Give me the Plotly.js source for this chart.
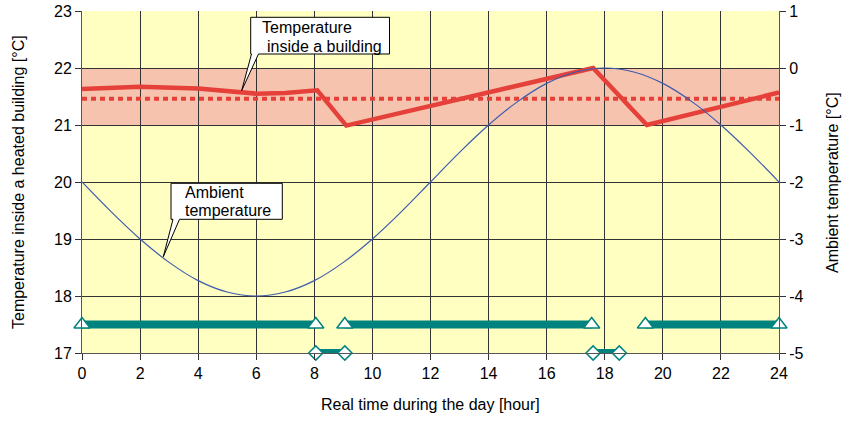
<!DOCTYPE html>
<html>
<head>
<meta charset="utf-8">
<script src="https://cdn.plot.ly/plotly-3.0.1.min.js"></script>
<style>html,body{margin:0;padding:0;background:#fff}#chart{width:846px;height:423px}</style>
</head>
<body>
<div id="chart"></div>
<script>
// Indoor temperature (left axis, °C)
const indoorHours = [0, 2, 4, 6, 7, 8.1, 9.1, 17.6, 19.45, 24];
const indoorTemp  = [21.63, 21.67, 21.64, 21.55, 21.56, 21.61, 20.99, 22.0, 21.0, 21.57];
// Mean indoor temperature (dotted line)
const meanHours = [0, 24];
const meanTemp  = [21.46, 21.46];
// Ambient temperature (right axis, °C)
const ambientHours = [0,1,2,3,4,5,6,7,8,9,10,11,12,13,14,15,16,17,18,19,20,21,22,23,24];
const ambientTemp  = [-2,-2.52,-3,-3.41,-3.73,-3.93,-4,-3.93,-3.73,-3.41,-3,-2.52,-2,-1.48,-1,-0.59,-0.27,-0.07,0,-0.07,-0.27,-0.59,-1,-1.48,-2];
// Heating on periods (upper bar) and off periods (lower bar)
const onStart  = [0, 9.05, 19.4];
const onEnd    = [8.05, 17.55, 24];
const onLevel  = 17.5;
const offStart = [8.05, 17.6];
const offEnd   = [9.05, 18.5];
const offLevel = 17;
// Comfort band
const bandLow = 21, bandHigh = 22;
const xTicks = [0,2,4,6,8,10,12,14,16,18,20,22,24];
const y2Ticks = [-5,-4,-3,-2,-1,0,1];
const y2TickText = ['-5','-4','-3','-2','-1','0','1'];

function segs(starts, ends, level) {
  const x = [], y = [];
  starts.forEach((s, i) => { x.push(s, ends[i], null); y.push(level, level, null); });
  return {x, y};
}
const onSeg = segs(onStart, onEnd, onLevel);
const offSeg = segs(offStart, offEnd, offLevel);
const onPts = {x: onStart.concat(onEnd), y: onStart.concat(onEnd).map(() => onLevel)};
const offPts = {x: offStart.concat(offEnd), y: offStart.concat(offEnd).map(() => offLevel)};

const teal = '#00837F';
const red = '#E5403A';
const font = 'Liberation Sans, Arial, sans-serif';

const traces = [
  {x: meanHours, y: meanTemp, mode: 'lines', line: {color: red, width: 4, dash: '5px,4px'}, hoverinfo: 'skip'},
  {x: indoorHours, y: indoorTemp, mode: 'lines', line: {color: red, width: 4.5}, hoverinfo: 'skip'},
  {x: onSeg.x, y: onSeg.y, mode: 'lines', line: {color: teal, width: 8}, cliponaxis: false, hoverinfo: 'skip'},
  {x: offSeg.x, y: offSeg.y, mode: 'lines', line: {color: teal, width: 8}, cliponaxis: false, hoverinfo: 'skip'},
  {x: onPts.x, y: onPts.y, mode: 'markers', marker: {symbol: 'triangle-up', size: 14, color: '#fff', line: {color: teal, width: 1.5}}, cliponaxis: false, hoverinfo: 'skip'},
  {x: offPts.x, y: offPts.y, mode: 'markers', marker: {symbol: 'diamond', size: 11, color: '#fff', line: {color: teal, width: 1.5}}, cliponaxis: false, hoverinfo: 'skip'},
  {x: ambientHours, y: ambientTemp, yaxis: 'y2', mode: 'lines', line: {color: '#3E5BAE', width: 1.2, shape: 'spline'}, hoverinfo: 'skip'}
];

// pixel helpers for callout geometry (plot area 82..779 x, 11..353 y)
const hx = px => (px - 82) / 697 * 24;
const vy = py => 23 - (py - 11) / 57;
function callout(l, r, t, b, wl, wr, tx, ty) {
  return {type: 'path', xref: 'x', yref: 'y', layer: 'above',
    path: `M${hx(l)},${vy(t)} L${hx(r)},${vy(t)} L${hx(r)},${vy(b)} L${hx(wr)},${vy(b)} L${hx(tx)},${vy(ty)} L${hx(wl)},${vy(b)} L${hx(l)},${vy(b)} Z`,
    fillcolor: '#fff', line: {color: '#000', width: 1}};
}

const shapes = [
  {type: 'rect', xref: 'x', yref: 'y', x0: 0, x1: 24, y0: bandLow, y1: bandHigh, fillcolor: '#F6C4AE', line: {width: 0}, layer: 'below'},
  callout(250.7, 389.5, 17.3, 54, 251.5, 258.5, 241.7, 90.5),
  callout(171, 282.3, 183.3, 219.3, 173, 179.5, 163.3, 256.7)
];

function txt(text, px, py) {
  return {text, xref: 'x', yref: 'y', x: hx(px), y: vy(py), xanchor: 'left', yanchor: 'middle', showarrow: false, font: {family: font, size: 16, color: '#000'}};
}

const annotations = [
  txt('Temperature', 259.5, 27.5),
  txt('inside a building', 264.5, 46),
  txt('Ambient', 183, 192),
  txt('temperature', 183, 210),
  {text: 'Temperature inside a heated building [°C]', xref: 'paper', yref: 'paper', x: (18 - 82) / 697, y: 0.5, textangle: -90, showarrow: false, xanchor: 'center', yanchor: 'middle', font: {family: font, size: 16, color: '#000'}},
  {text: 'Ambient temperature [°C]', xref: 'paper', yref: 'paper', x: (832 - 82) / 697, y: 0.5, textangle: -90, showarrow: false, xanchor: 'center', yanchor: 'middle', font: {family: font, size: 16, color: '#000'}},
  {text: 'Real time during the day [hour]', xref: 'paper', yref: 'paper', x: 0.5, y: -(405 - 353) / 342, showarrow: false, xanchor: 'center', yanchor: 'middle', font: {family: font, size: 16, color: '#000'}}
];

const layout = {
  width: 846, height: 423,
  margin: {l: 82, r: 67, t: 11, b: 70},
  paper_bgcolor: '#fff', plot_bgcolor: '#FFFFC2',
  showlegend: false,
  font: {family: font, size: 16, color: '#000'},
  xaxis: {range: [0, 24], tickvals: xTicks, ticks: 'outside', ticklen: 6, tickcolor: '#333', showgrid: true, gridcolor: '#333', gridwidth: 1, zeroline: false, showline: true, linecolor: '#555', fixedrange: true},
  yaxis: {range: [17, 23], dtick: 1, ticks: 'outside', ticklen: 6, tickcolor: '#333', showgrid: true, gridcolor: '#333', gridwidth: 1, zeroline: false, showline: true, linecolor: '#555', fixedrange: true},
  yaxis2: {range: [-5, 1], tickvals: y2Ticks, ticktext: y2TickText, overlaying: 'y', side: 'right', ticks: 'outside', ticklen: 6, tickcolor: '#333', showgrid: false, zeroline: false, showline: true, linecolor: '#555', fixedrange: true},
  shapes, annotations
};

Plotly.newPlot('chart', traces, layout, {staticPlot: true, displayModeBar: false});
</script>
</body>
</html>
